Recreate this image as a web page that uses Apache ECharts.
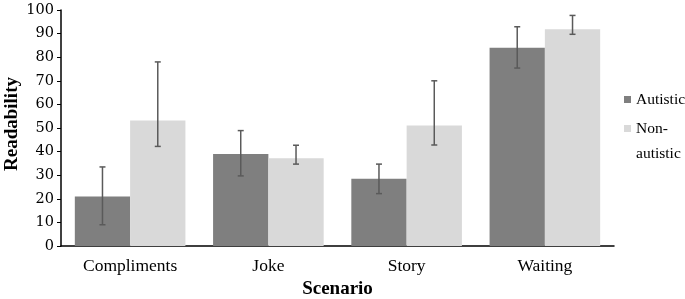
<!DOCTYPE html>
<html><head><meta charset="utf-8">
<script src="https://cdn.jsdelivr.net/npm/echarts@6/dist/echarts.min.js"></script>
<style>html,body{margin:0;padding:0;background:#fff}#c{width:685px;height:299px}</style>
</head><body><div id="c"></div>
<script>
const categories = ['Compliments', 'Joke', 'Story', 'Waiting'];
const autistic = [21, 39, 28.5, 84];
const autisticLow = [9, 29.7, 22.2, 75.4];
const autisticHigh = [33.5, 48.9, 34.7, 92.9];
const nonAutistic = [53.2, 37.2, 51.1, 91.8];
const nonAutisticLow = [42.2, 34.7, 42.8, 89.7];
const nonAutisticHigh = [78, 42.7, 70, 97.7];
const yTicks = [0, 10, 20, 30, 40, 50, 60, 70, 80, 90, 100];
const yName = 'Readability';

const FONT = '"Liberation Serif", "Times New Roman", serif';
const TICKFONT = '"DejaVu Serif", serif';
const chart = echarts.init(document.getElementById('c'), null, {renderer: 'canvas'});

function errSeries(low, high, offset) {
  return {
    type: 'custom',
    silent: true,
    z: 10,
    data: low.map((l, i) => [i, l, high[i]]),
    encode: {x: 0, y: [1, 2]},
    renderItem: function (params, api) {
      const idx = api.value(0);
      const w = api.size([1, 0])[0];
      const x = api.coord([idx, 0])[0] + offset * w;
      const y1 = api.coord([idx, api.value(1)])[1];
      const y2 = api.coord([idx, api.value(2)])[1];
      const st = {stroke: '#5a5a5a', lineWidth: 1.5};
      return {type: 'group', children: [
        {type: 'line', shape: {x1: x, y1: y1, x2: x, y2: y2}, style: st},
        {type: 'line', shape: {x1: x - 3, y1: y1, x2: x + 3, y2: y1}, style: st},
        {type: 'line', shape: {x1: x - 3, y1: y2, x2: x + 3, y2: y2}, style: st}
      ]};
    }
  };
}

chart.setOption({
  animation: false,
  textStyle: {fontFamily: FONT},
  grid: {left: 61, right: 71, top: 10, bottom: 53, containLabel: false, outerBoundsMode: 'none'},
  graphic: [{
    type: 'text', x: 12, y: 124, rotation: Math.PI / 2,
    style: {text: yName, font: 'bold 19px "Liberation Serif", serif', fill: '#000',
      align: 'center', verticalAlign: 'middle'}
  }],
  legend: {
    orient: 'vertical',
    left: 619,
    top: 82,
    itemWidth: 7,
    itemHeight: 7,
    itemGap: -21,
    icon: 'rect',
    textStyle: {fontFamily: FONT, fontSize: 15.5, color: '#000', lineHeight: 25},
    data: [{name: 'Autistic'}, {name: 'Non-autistic'}],
    formatter: function (n) { return n === 'Non-autistic' ? '\nNon-\nautistic' : n; }
  },
  xAxis: {
    type: 'category',
    data: categories,
    name: 'Scenario',
    nameLocation: 'middle',
    nameGap: 32,
    nameTextStyle: {fontFamily: FONT, fontSize: 19, fontWeight: 'bold', color: '#000'},
    axisLine: {lineStyle: {color: '#000', width: 1.5}},
    axisTick: {show: false},
    axisLabel: {fontFamily: FONT, fontSize: 17.5, color: '#000', margin: 11}
  },
  yAxis: {
    type: 'value',
    min: 0, max: 100, interval: 10,
    axisLine: {show: true, lineStyle: {color: '#000', width: 1.5}},
    axisTick: {show: true, length: 4, lineStyle: {color: '#000'}},
    splitLine: {show: false},
    axisLabel: {fontFamily: TICKFONT, fontSize: 14.5, color: '#000', margin: 7,
      formatter: function (v) { return yTicks.indexOf(v) >= 0 ? String(v) : ''; }}
  },
  series: [
    {name: 'Autistic', type: 'bar', data: autistic, barGap: '0%', barCategoryGap: '20%',
      itemStyle: {color: '#7f7f7f'}},
    {name: 'Non-autistic', type: 'bar', data: nonAutistic, barGap: '0%', barCategoryGap: '20%',
      itemStyle: {color: '#d9d9d9'}},
    errSeries(autisticLow, autisticHigh, -0.2),
    errSeries(nonAutisticLow, nonAutisticHigh, 0.2)
  ]
});
</script></body></html>
